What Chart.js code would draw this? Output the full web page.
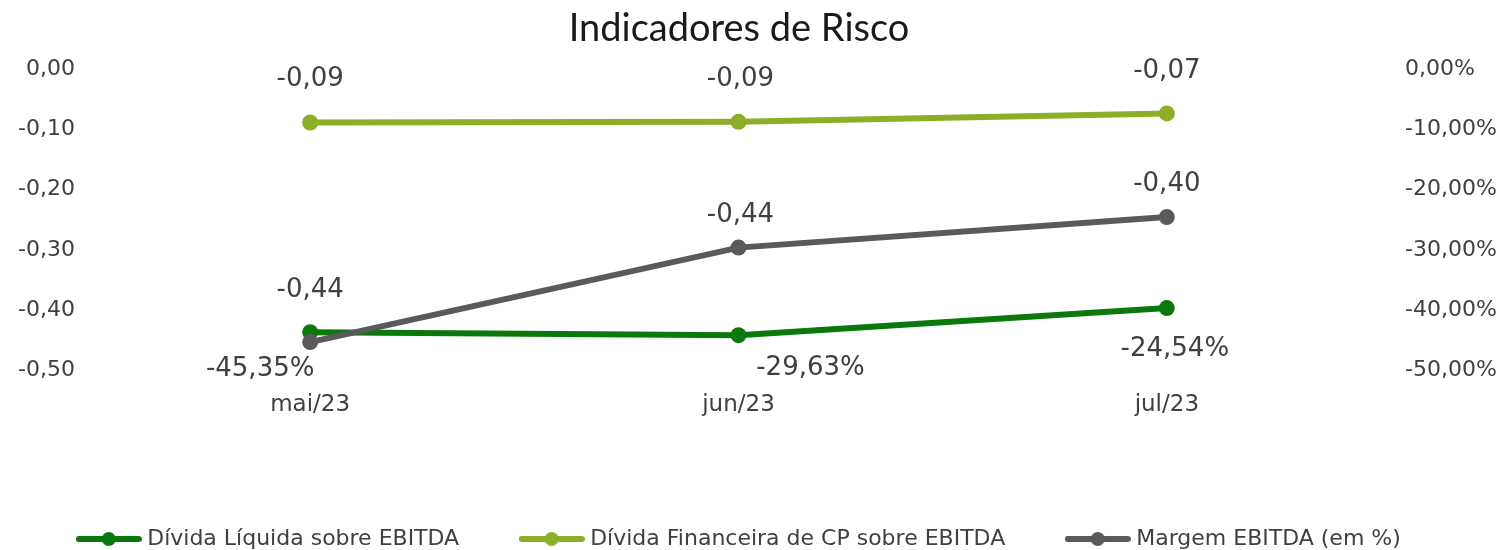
<!DOCTYPE html>
<html>
<head>
<meta charset="utf-8">
<script src="https://cdn.jsdelivr.net/npm/chart.js@4"></script>
<style>
  html, body { margin: 0; padding: 0; background: #fff; }
  #wrap { width: 1510px; height: 550px; }
</style>
</head>
<body>
<div id="wrap"><canvas id="chartCanvas"></canvas></div>
<script>
// 資料
const categories = ["mai/23", "jun/23", "jul/23"];
const dividaLiquida = [-0.437, -0.442, -0.397];
const dividaFinanceiraCP = [-0.088, -0.087, -0.073];
const margemEbitda = [-0.4535, -0.2963, -0.2454];
const leftTicks = [0, -0.1, -0.2, -0.3, -0.4, -0.5];

const FONT = "'DejaVu Sans', sans-serif";
const TEXT = "#404040";
const cDark = "#0B780B";
const cLight = "#8DAE28";
const cGray = "#5A5A5A";

const fmt = (v) => v.toFixed(2).replace(".", ",");
const fmtPct = (v) => (v * 100).toFixed(2).replace(".", ",") + "%";

// 標籤偏移 (跟原圖一樣的位置)
const labelOffsets = [
	[[0, -42], [2, -120], [0, -124]],
	[[0, -43], [2, -43], [0, -42]],
	[[-50, 27], [72, 121], [8, 132]],
];

// 圖例圖示: 線 + 圓點
function legendIcon(color) {
	const c = document.createElement("canvas");
	c.width = 66;
	c.height = 18;
	const g = c.getContext("2d");
	g.strokeStyle = color;
	g.lineWidth = 6;
	g.lineCap = "round";
	g.beginPath();
	g.moveTo(3, 9);
	g.lineTo(63, 9);
	g.stroke();
	g.fillStyle = color;
	g.beginPath();
	g.arc(33, 9, 7, 0, Math.PI * 2);
	g.fill();
	return c;
}

const dataLabels = {
	id: "dataLabels",
	afterDatasetsDraw(chart) {
		const ctx = chart.ctx;
		ctx.save();
		ctx.font = "26px " + FONT;
		ctx.fillStyle = TEXT;
		ctx.textAlign = "center";
		ctx.textBaseline = "middle";
		chart.data.datasets.forEach((ds, i) => {
			const meta = chart.getDatasetMeta(i);
			meta.data.forEach((pt, j) => {
				const off = labelOffsets[i][j];
				const txt = ds.yAxisID === "y1" ? fmtPct(ds.data[j]) : fmt(ds.data[j]);
				ctx.fillText(txt, pt.x + off[0], pt.y + off[1]);
			});
		});
		ctx.restore();
	},
};

// 標題和圖例稍微往左移
const shiftBlocks = {
	id: "shiftBlocks",
	afterLayout(chart) {
		if (chart.titleBlock) {
			chart.titleBlock.left -= 16;
			chart.titleBlock.right -= 16;
		}
		if (chart.legend) {
			chart.legend.left -= 14;
			chart.legend.right -= 14;
		}
	},
};

const ctx = document.getElementById("chartCanvas").getContext("2d");
const chart = new Chart(ctx, {
	type: "line",
	data: {
		labels: categories,
		datasets: [
			{
				label: "Dívida Líquida sobre EBITDA",
				data: dividaLiquida,
				borderColor: cDark,
				backgroundColor: cDark,
				yAxisID: "y",
				order: 1,
			},
			{
				label: "Dívida Financeira de CP sobre EBITDA",
				data: dividaFinanceiraCP,
				borderColor: cLight,
				backgroundColor: cLight,
				yAxisID: "y",
				order: 2,
			},
			{
				label: "Margem EBITDA (em %)",
				data: margemEbitda,
				borderColor: cGray,
				backgroundColor: cGray,
				yAxisID: "y1",
				order: 0,
			},
		],
	},
	options: {
		responsive: true,
		maintainAspectRatio: false,
		animation: false,
		layout: { padding: { top: 2, bottom: -10 } },
		elements: {
			line: { borderWidth: 6, tension: 0, borderCapStyle: "round" },
			point: { radius: 8, borderWidth: 0, hoverRadius: 8 },
		},
		scales: {
			x: {
				offset: true,
				grid: { display: false },
				border: { display: false },
				ticks: { font: { family: FONT, size: 23 }, color: TEXT, padding: 13 },
				afterFit(axis) { axis.height = 93; },
			},
			y: {
				position: "left",
				min: -0.5,
				max: 0,
				grid: { display: false },
				border: { display: false },
				afterBuildTicks(axis) { axis.ticks = leftTicks.map((v) => ({ value: v })); },
				ticks: {
					font: { family: FONT, size: 22 },
					color: TEXT,
					padding: 13,
					callback: (v) => fmt(v),
				},
				afterFit(axis) { axis.width = 96; },
			},
			y1: {
				position: "right",
				min: -0.5,
				max: 0,
				grid: { display: false },
				border: { display: false },
				afterBuildTicks(axis) { axis.ticks = leftTicks.map((v) => ({ value: v })); },
				ticks: {
					font: { family: FONT, size: 22 },
					color: TEXT,
					padding: 16,
					callback: (v) => fmtPct(v),
				},
				afterFit(axis) { axis.width = 129; },
			},
		},
		plugins: {
			title: {
				display: true,
				text: "Indicadores de Risco",
				color: "#1a1a1a",
				font: { family: "Lato, sans-serif", size: 38, weight: "normal" },
				padding: { top: 4, bottom: 18 },
			},
			legend: {
				position: "bottom",
				labels: {
					usePointStyle: true,
					pointStyleWidth: 55,
					padding: 65,
					color: TEXT,
					font: { family: FONT, size: 22 },
					generateLabels(chart) {
						return chart.data.datasets.map((ds, i) => ({
							text: ds.label,
							datasetIndex: i,
							pointStyle: legendIcon(ds.borderColor),
							fillStyle: ds.borderColor,
							strokeStyle: ds.borderColor,
							lineWidth: 0,
							fontColor: TEXT,
							hidden: !chart.isDatasetVisible(i),
						}));
					},
				},
			},
			tooltip: { enabled: false },
		},
	},
	plugins: [dataLabels, shiftBlocks],
});
</script>
</body>
</html>
